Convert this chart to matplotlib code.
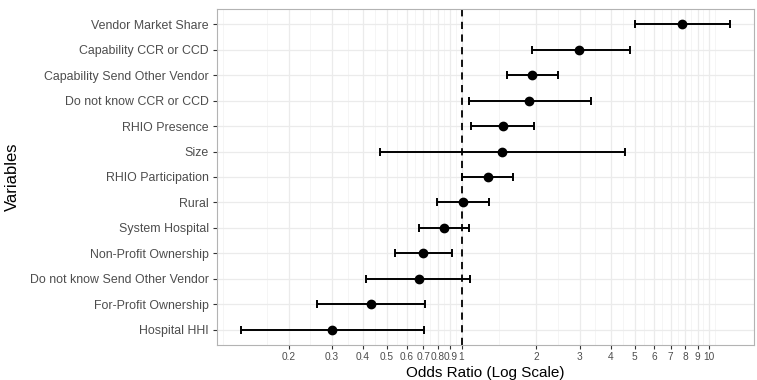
import numpy as np
import matplotlib
matplotlib.use('agg')
import matplotlib.pyplot as plt
from matplotlib.ticker import FixedLocator, NullFormatter

# Odds ratios with 95% CI, listed from top row to bottom row
variables = ["Vendor Market Share", "Capability CCR or CCD", "Capability Send Other Vendor",
             "Do not know CCR or CCD", "RHIO Presence", "Size", "RHIO Participation",
             "Rural", "System Hospital", "Non-Profit Ownership",
             "Do not know Send Other Vendor", "For-Profit Ownership", "Hospital HHI"]
odds = [7.78, 2.97, 1.93, 1.87, 1.47, 1.46, 1.28, 1.01, 0.85, 0.70, 0.67, 0.43, 0.30]
lower = [5.01, 1.92, 1.53, 1.07, 1.09, 0.47, 1.005, 0.795, 0.67, 0.536, 0.41, 0.26, 0.129]
upper = [12.1, 4.78, 2.45, 3.33, 1.97, 4.58, 1.62, 1.29, 1.07, 0.914, 1.08, 0.709, 0.708]
breaks = [0.2, 0.3, 0.4, 0.5, 0.6, 0.7, 0.8, 0.9, 1, 2, 3, 4, 5, 6, 7, 8, 9, 10]

plt.rcParams['font.family'] = ['Liberation Sans', 'DejaVu Sans']

fig = plt.figure(figsize=(7.57, 3.8), dpi=100)
ax = fig.add_axes([217 / 757, 35 / 380, 537 / 757, 336 / 380])

y = np.arange(len(variables))[::-1]
odds = np.array(odds)
lower = np.array(lower)
upper = np.array(upper)

ax.errorbar(odds, y, xerr=[odds - lower, upper - odds], fmt='o', color='black',
            ms=6, elinewidth=1.4, capsize=3, capthick=1.4, zorder=3)
ax.axvline(1, color='black', ls=(0, (4, 3)), lw=1.3, zorder=2)

ax.set_xscale('log')
lo, hi = np.log10(lower.min()), np.log10(upper.max())
pad = 0.05 * (hi - lo)
ax.set_xlim(10 ** (lo - pad), 10 ** (hi + pad))
ax.set_ylim(-0.6, len(variables) - 0.4)

ax.xaxis.set_major_locator(FixedLocator(breaks))
ax.set_xticklabels([f"{b:g}" for b in breaks])
lb = np.log10(breaks)
minor = list((lb[:-1] + lb[1:]) / 2)
minor = [lb[0] - (lb[1] - lb[0]) / 2, lb[0] - 1.5 * (lb[1] - lb[0])] + minor + [lb[-1] + (lb[-1] - lb[-2]) / 2]
ax.xaxis.set_minor_locator(FixedLocator(10 ** np.array(minor)))
ax.xaxis.set_minor_formatter(NullFormatter())
ax.set_yticks(y)
ax.set_yticklabels(variables)

ax.grid(True, which='major', color='#ebebeb', lw=0.9, zorder=0)
ax.grid(True, which='minor', axis='x', color='#f2f2f2', lw=0.5, zorder=0)
ax.set_axisbelow(True)
ax.tick_params(which='minor', length=0)
ax.tick_params(which='major', length=3, width=0.8, color='#333333', labelcolor='#4d4d4d')
ax.tick_params(axis='x', labelsize=7.3, pad=2)
ax.tick_params(axis='y', labelsize=8.9, pad=3)
for s in ax.spines.values():
    s.set_color('#b3b3b3')

ax.set_xlabel("Odds Ratio (Log Scale)", fontsize=11, labelpad=3)
ax.set_ylabel("Variables", fontsize=12, labelpad=7)

fig.savefig("out.png", dpi=100)
plt.close(fig)
